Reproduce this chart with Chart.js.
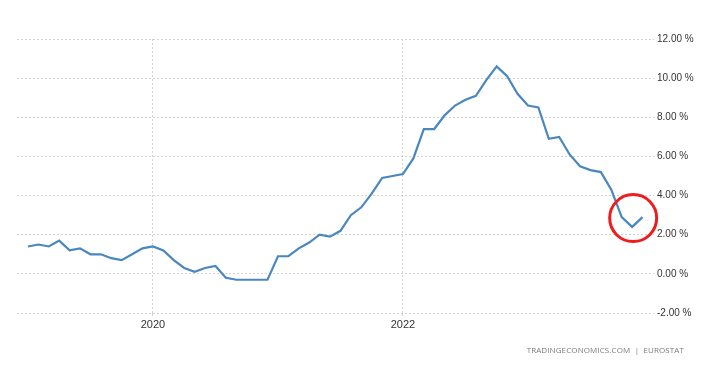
<!DOCTYPE html>
<html lang="en">
<head>
<meta charset="UTF-8">
<script src="https://cdn.jsdelivr.net/npm/chart.js"></script>
<title>Euro Area Inflation Rate</title>
<style>
  body { margin: 0; background: #fff; }
  #wrap { position: relative; width: 728px; height: 368px; }
  #source { position: absolute; left: 0; width: 684px; top: 344px; text-align: right;
            font: 8px "Open Sans", sans-serif; color: #7a7a7a; letter-spacing: 0.1px; }
</style>
</head>
<body>
<div id="wrap">
  <canvas id="chart" width="728" height="368"></canvas>
  <div id="source">TRADINGECONOMICS.COM &nbsp;|&nbsp; EUROSTAT</div>
</div>
<script>
// monthly inflation rate, Jan 2019 .. Dec 2023
const years = ['2019', '2020', '2021', '2022', '2023'];
const rate2019 = [1.4, 1.5, 1.4, 1.7, 1.2, 1.3, 1.0, 1.0, 0.8, 0.7, 1.0, 1.3];
const rate2020 = [1.4, 1.2, 0.7, 0.3, 0.1, 0.3, 0.4, -0.2, -0.3, -0.3, -0.3, -0.3];
const rate2021 = [0.9, 0.9, 1.3, 1.6, 2.0, 1.9, 2.2, 3.0, 3.4, 4.1, 4.9, 5.0];
const rate2022 = [5.1, 5.9, 7.4, 7.4, 8.1, 8.6, 8.9, 9.1, 9.9, 10.6, 10.1, 9.2];
const rate2023 = [8.6, 8.5, 6.9, 7.0, 6.1, 5.5, 5.3, 5.2, 4.3, 2.9, 2.4, 2.9];

const xTickIndex = [12, 36];
const xTickLabels = ['2020', '2022'];
const yTicks = [-2, 0, 2, 4, 6, 8, 10, 12];

// red circle around the latest readings
const highlightIndex = 58.1;
const highlightValue = 2.85;

const values = [].concat(rate2019, rate2020, rate2021, rate2022, rate2023);
const points = values.map((v, i) => ({ x: i, y: v }));

const circlePlugin = {
    id: 'circle',
    afterDatasetsDraw(chart) {
        const ctx = chart.ctx;
        const cx = chart.scales.x.getPixelForValue(highlightIndex);
        const cy = chart.scales.y.getPixelForValue(highlightValue);
        ctx.save();
        ctx.beginPath();
        ctx.arc(cx, cy, 23.5, 0, Math.PI * 2);
        ctx.lineWidth = 3;
        ctx.strokeStyle = '#ee1c1c';
        ctx.stroke();
        ctx.restore();
    }
};

new Chart(document.getElementById('chart'), {
    type: 'line',
    data: {
        datasets: [{
            data: points,
            borderColor: '#4a87be',
            borderWidth: 2.2,
            pointRadius: 0,
            tension: 0,
            fill: false
        }]
    },
    options: {
        responsive: false,
        animation: false,
        layout: { padding: { top: 39, left: 17, right: 0, bottom: 0 } },
        plugins: { legend: { display: false }, tooltip: { enabled: false } },
        scales: {
            x: {
                type: 'linear',
                min: -1.05,
                max: 60.1,
                afterBuildTicks(scale) {
                    scale.ticks = xTickIndex.map(v => ({ value: v }));
                },
                afterFit(scale) { scale.height = 55; },
                border: { display: false, dash: [2, 2] },
                grid: {
                    color: '#d2d2d2',
                    lineWidth: 1,
                    drawTicks: true,
                    tickLength: 3
                },
                ticks: {
                    padding: 2,
                    autoSkip: false,
                    maxRotation: 0,
                    color: '#333',
                    font: { family: 'Liberation Sans', size: 11 },
                    callback: (v) => {
                        const k = xTickIndex.indexOf(v);
                        return k >= 0 ? xTickLabels[k] : '';
                    }
                }
            },
            y: {
                position: 'right',
                min: -2,
                max: 12,
                afterBuildTicks(scale) {
                    scale.ticks = yTicks.map(v => ({ value: v }));
                },
                afterFit(scale) { scale.width = 74; },
                border: { display: false, dash: [2, 2] },
                grid: { color: '#d2d2d2', lineWidth: 1, drawTicks: false },
                ticks: {
                    padding: 3,
                    color: '#333',
                    font: { family: 'Liberation Sans', size: 10 },
                    callback: (v) => v.toFixed(2) + ' %'
                }
            }
        }
    },
    plugins: [circlePlugin]
});
</script>
</body>
</html>
